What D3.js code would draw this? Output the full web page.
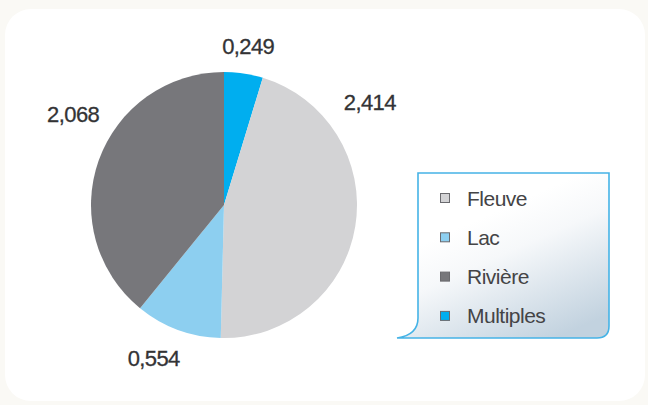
<!DOCTYPE html>
<html><head><meta charset="utf-8">
<script src="https://cdn.jsdelivr.net/npm/d3@7"></script>
<style>body{margin:0;background:#faf9f5;} svg{display:block;}</style>
</head><body>
<svg id="c" width="648" height="405"></svg>
<script>
const categories = ["Multiples", "Fleuve", "Lac", "Rivière"];
const values = [0.249, 2.414, 0.554, 2.068];
const valueLabels = ["0,249", "2,414", "0,554", "2,068"];
const legendOrder = ["Fleuve", "Lac", "Rivière", "Multiples"];
const colors = {"Fleuve":"#d3d3d5","Lac":"#8dcff0","Rivière":"#77777b","Multiples":"#00aeef"};
// label placement (angle in degrees from 12 o'clock, radius)
const labelAngles = [8.7, 55, 204.6, 301];
const labelRadii = [160, 178, 169, 176];

const svg = d3.select("#c");
const defs = svg.append("defs");
const g1 = defs.append("linearGradient").attr("id","lg").attr("x1","0.35").attr("y1","0.3").attr("x2","0.75").attr("y2","1");
g1.append("stop").attr("offset","0").attr("stop-color","#ffffff");
g1.append("stop").attr("offset","0.3").attr("stop-color","#f6f8fa");
g1.append("stop").attr("offset","1").attr("stop-color","#c2d2df");

// page panel
svg.append("rect").attr("x",5).attr("y",9).attr("width",640).attr("height",392).attr("rx",26).attr("fill","#ffffff");

const cx = 224, cy = 205, R = 133;
const pie = d3.pie().sort(null).value(d => d.v);
const arcs = pie(categories.map((c,i)=>({c, v: values[i], l: valueLabels[i], i})));
const arc = d3.arc().innerRadius(0).outerRadius(R);
const gp = svg.append("g").attr("transform",`translate(${cx},${cy})`);
gp.selectAll("path").data(arcs).join("path")
  .attr("d", arc).attr("fill", d => colors[d.data.c]);

const font = "'Liberation Sans Narrow','Liberation Sans',Arial,sans-serif";
gp.selectAll("text").data(arcs).join("text")
  .attr("x", d => Math.sin(labelAngles[d.data.i]*Math.PI/180)*labelRadii[d.data.i])
  .attr("y", d => -Math.cos(labelAngles[d.data.i]*Math.PI/180)*labelRadii[d.data.i])
  .attr("text-anchor","middle").attr("dominant-baseline","central")
  .attr("font-family", font).attr("font-size", 22).attr("letter-spacing",-0.6)
  .attr("fill","#333335").attr("stroke","#333335").attr("stroke-width",0.3)
  .text(d => d.data.l);

// legend box
const lx = 418, ly = 173, lw = 191, lh = 165;
const p = d3.path();
p.moveTo(lx, ly);
p.lineTo(lx+lw, ly);
p.lineTo(lx+lw, ly+lh-12);
p.quadraticCurveTo(lx+lw, ly+lh, lx+lw-12, ly+lh);
p.lineTo(lx-21, ly+lh);
p.quadraticCurveTo(lx, ly+lh-3, lx, ly+lh-20);
p.closePath();
svg.append("path").attr("d", p.toString()).attr("fill","url(#lg)")
  .attr("stroke","#45b3e6").attr("stroke-width",1.6);

const ly0 = 198, ldy = 39.3;
const leg = svg.append("g");
legendOrder.forEach((c,i)=>{
  const y = ly0 + i*ldy;
  leg.append("rect").attr("x",440.5).attr("y",y-4.5).attr("width",9).attr("height",9)
    .attr("fill",colors[c]).attr("stroke","#6a6a6e").attr("stroke-width",1);
  leg.append("text").attr("x",467).attr("y",y).attr("dominant-baseline","central")
    .attr("font-family",font).attr("font-size",21).attr("letter-spacing",-0.5)
    .attr("fill","#444446").text(c);
});
</script>
</body></html>
